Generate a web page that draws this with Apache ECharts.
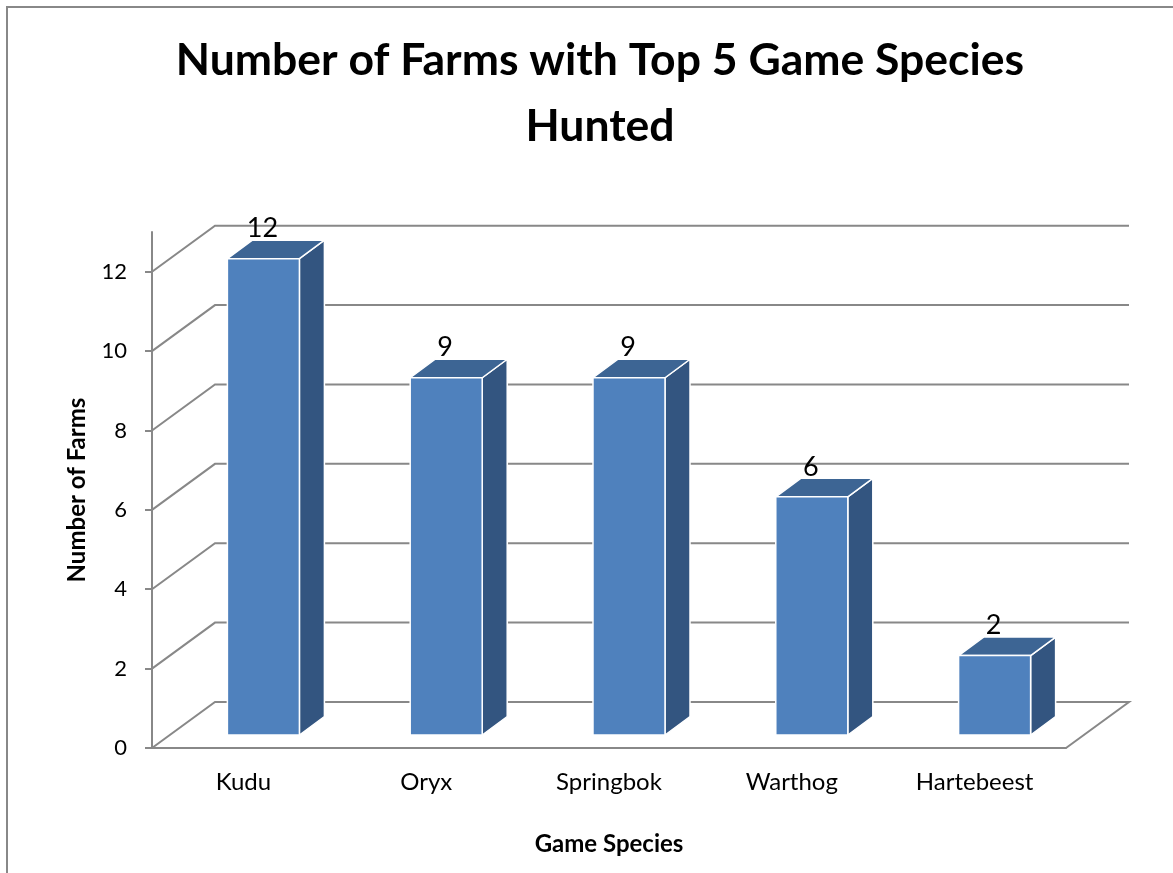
<!DOCTYPE html>
<html>
<head>
<meta charset="utf-8">
<script src="https://cdn.jsdelivr.net/npm/echarts@6/dist/echarts.min.js"></script>
<style>
html,body{margin:0;padding:0;background:#fff;}
#chart{width:1173px;height:873px;}
</style>
</head>
<body>
<div id="chart"></div>
<script>
const titleText = 'Number of Farms with Top 5 Game Species\nHunted';
const categories = ['Kudu', 'Oryx', 'Springbok', 'Warthog', 'Hartebeest'];
const farms = [12, 9, 9, 6, 2];
const yTicks = [0, 2, 4, 6, 8, 10, 12];
const xName = 'Game Species';
const yName = 'Number of Farms';

const FONT = 'Lato';
const DX = 63, DY = -46;          // wall depth offset
const FX = 20, FY = -13;          // bar front-face offset
const SX = 25, SY = -18.5;        // bar depth

const chart = echarts.init(document.getElementById('chart'));
chart.setOption({
  backgroundColor: '#fff',
  animation: false,
  title: {
    text: titleText,
    left: 595, top: 23, textAlign: 'center',
    textStyle: { fontFamily: FONT, fontWeight: 'bold', fontSize: 44.5, lineHeight: 66, color: '#000' }
  },
  graphic: [{
    type: 'rect', silent: true,
    shape: { x: 7, y: 7, width: 1200, height: 900 },
    style: { fill: null, stroke: '#888', lineWidth: 2 }
  }],
  grid: { left: 152, right: 107, top: 232, bottom: 125, containLabel: false },
  xAxis: {
    type: 'category', data: categories,
    name: xName, nameLocation: 'middle', nameGap: 84,
    nameTextStyle: { fontFamily: FONT, fontWeight: 'bold', fontSize: 24, color: '#000' },
    axisLine: { lineStyle: { color: '#888', width: 2 } },
    axisTick: { length: 8, lineStyle: { color: '#888', width: 2 } },
    axisLabel: { fontFamily: FONT, fontSize: 24, color: '#000', margin: 22 },
    splitLine: { show: false }
  },
  yAxis: {
    type: 'value', min: 0, max: 13,
    name: yName, nameLocation: 'middle', nameGap: 63, nameRotate: 90,
    nameTextStyle: { fontFamily: FONT, fontWeight: 'bold', fontSize: 24, color: '#000' },
    axisLine: { show: true, lineStyle: { color: '#888', width: 2 } },
    axisTick: { show: true, length: 7, customValues: yTicks, lineStyle: { color: '#888', width: 2 } },
    axisLabel: { fontFamily: FONT, fontSize: 22, color: '#000', margin: 25, customValues: yTicks },
    splitLine: { show: false }
  },
  series: [
    {
      type: 'custom', silent: true, z: 1,
      data: yTicks.map(v => [0, v]),
      encode: { x: 0, y: 1 },
      renderItem: function (params, api) {
        const cs = params.coordSys;
        const v = api.value(1);
        const y = api.coord([0, v])[1];
        const L = cs.x, R = cs.x + cs.width;
        const pts = [[L, y], [L + DX, y + DY], [R + DX, y + DY]];
        if (v === 0) pts.push([R, y]);
        return {
          type: 'polyline',
          shape: { points: pts },
          style: { stroke: '#888', lineWidth: 2, fill: null }
        };
      }
    },
    {
      type: 'custom', silent: true, z: 3,
      data: farms.map((v, i) => [i, v]),
      encode: { x: 0, y: 1 },
      renderItem: function (params, api) {
        const i = api.value(0), v = api.value(1);
        const top = api.coord([i, v]);
        const bot = api.coord([i, 0]);
        const bw = api.size([1, 0])[0] * 0.394;
        const x0 = top[0] - bw / 2 + FX, x1 = top[0] + bw / 2 + FX;
        const yt = top[1] + FY, yb = bot[1] + FY;
        const edge = { stroke: '#fff', lineWidth: 1.5, lineJoin: 'round' };
        return {
          type: 'group',
          children: [
            { type: 'polygon', shape: { points: [[x1, yt], [x1 + SX, yt + SY], [x1 + SX, yb + SY], [x1, yb]] },
              style: Object.assign({ fill: '#335580' }, edge) },
            { type: 'polygon', shape: { points: [[x0, yt], [x0 + SX, yt + SY], [x1 + SX, yt + SY], [x1, yt]] },
              style: Object.assign({ fill: '#3D6594' }, edge) },
            { type: 'polygon', shape: { points: [[x0, yt], [x1, yt], [x1, yb], [x0, yb]] },
              style: Object.assign({ fill: '#4F81BD' }, edge) },
            { type: 'text', style: {
                text: String(v), x: (x0 + x1) / 2 - 1, y: yt + SY + 2,
                align: 'center', verticalAlign: 'bottom',
                fontFamily: FONT, fontSize: 27, fill: '#000' } }
          ]
        };
      }
    }
  ]
});
</script>
</body>
</html>
